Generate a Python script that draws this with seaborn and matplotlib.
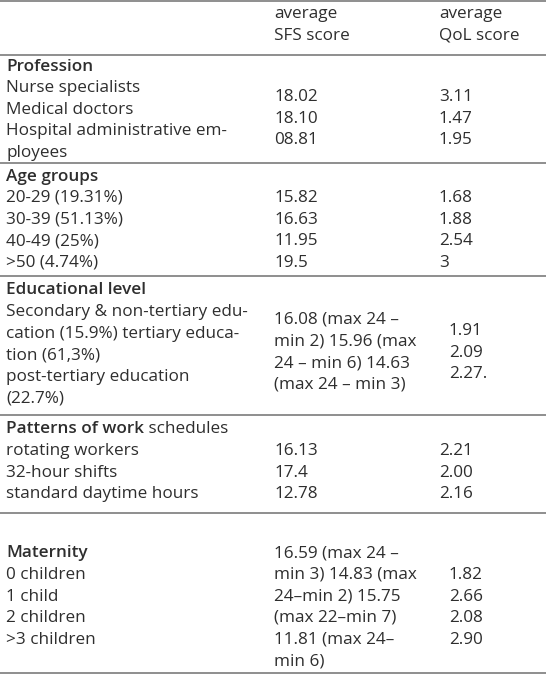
import matplotlib.pyplot as plt
import seaborn as sns

# table content
header_sfs = ["average", "SFS score"]
header_qol = ["average", "QoL score"]

profession_labels = ["Nurse specialists", "Medical doctors", "Hospital administrative em-", "ployees"]
profession_sfs = ["18.02", "18.10", "08.81"]
profession_qol = ["3.11", "1.47", "1.95"]

age_labels = ["20-29 (19.31%)", "30-39 (51.13%)", "40-49 (25%)", ">50 (4.74%)"]
age_sfs = ["15.82", "16.63", "11.95", "19.5"]
age_qol = ["1.68", "1.88", "2.54", "3"]

edu_labels = ["Secondary & non-tertiary edu-", "cation (15.9%) tertiary educa-",
              "tion (61,3%)", "post-tertiary education", "(22.7%)"]
edu_sfs = ["16.08 (max 24 \u2013", "min 2) 15.96 (max", "24 \u2013 min 6) 14.63", "(max 24 \u2013 min 3)"]
edu_qol = ["1.91", "2.09", "2.27."]

work_labels = ["rotating workers", "32-hour shifts", "standard daytime hours"]
work_sfs = ["16.13", "17.4", "12.78"]
work_qol = ["2.21", "2.00", "2.16"]

mat_labels = ["0 children", "1 child", "2 children", ">3 children"]
mat_sfs = ["16.59 (max 24 \u2013", "min 3) 14.83 (max", "24\u2013min 2) 15.75",
           "(max 22\u2013min 7)", "11.81 (max 24\u2013", "min 6)"]
mat_qol = ["1.82", "2.66", "2.08", "2.90"]

sns.set_theme(style="white")
plt.rcParams["font.family"] = ["Open Sans", "DejaVu Sans"]

W, H = 546, 674
fig = plt.figure(figsize=(W / 100, H / 100), dpi=100)
ax = fig.add_axes([0, 0, 1, 1])
ax.set_xlim(0, W)
ax.set_ylim(H, 0)
ax.axis("off")

fs = 12.3
col = "#2e2e2e"
lh = 21.6
x_lab, x_sfs, x_qol, x_qol2 = 6, 274, 439, 449


def lines(x, y0, txts, bold=False):
    for i, t in enumerate(txts):
        ax.text(x, y0 + i * lh, t, fontsize=fs, color=col, va="center", ha="left",
                fontweight="semibold" if bold else "normal")


# horizontal rules
for y in [1, 55, 163, 276, 415, 513, 673]:
    ax.axhline(y, color="#707070", lw=1.1)

lines(x_sfs, 14, header_sfs)
lines(x_qol, 14, header_qol)

# Profession
lines(x_lab, 67, ["Profession"], bold=True)
lines(x_lab, 88, profession_labels)
lines(x_sfs, 97, profession_sfs)
lines(x_qol, 97, profession_qol)

# Age groups
lines(x_lab, 177, ["Age groups"], bold=True)
lines(x_lab, 198, age_labels)
lines(x_sfs, 198, age_sfs)
lines(x_qol, 198, age_qol)

# Educational level
lines(x_lab, 290, ["Educational level"], bold=True)
lines(x_lab, 312, edu_labels)
lines(x_sfs, 320, edu_sfs)
lines(x_qol2, 331, edu_qol)

# Patterns of work schedules
t = ax.text(x_lab, 429, "Patterns of work", fontsize=fs, color=col, va="center",
            fontweight="semibold")
r = fig.canvas.get_renderer()
bb = t.get_window_extent(renderer=r)
x_end = ax.transData.inverted().transform((bb.x1, bb.y0))[0]
ax.text(x_end, 429, " schedules", fontsize=fs, color=col, va="center")
lines(x_lab, 451, work_labels)
lines(x_sfs, 451, work_sfs)
lines(x_qol, 451, work_qol)

# Maternity
lines(x_lab, 553, ["Maternity"], bold=True)
lines(x_lab, 575, mat_labels)
lines(x_sfs, 553, mat_sfs)
lines(x_qol2, 575, mat_qol)

fig.savefig("out.png", dpi=100)
